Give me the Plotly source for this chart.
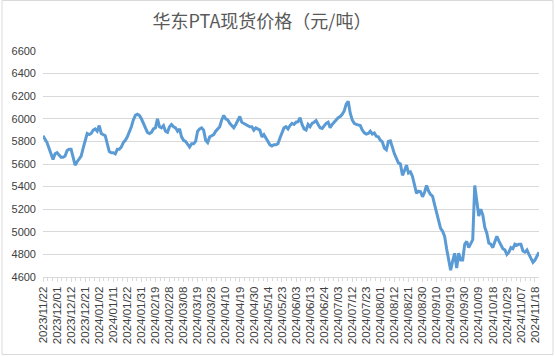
import pandas as pd
import plotly.graph_objects as go

title_text = "华东PTA现货价格（元/吨）"

holidays = ["2024-01-01", "2024-02-09", "2024-02-12", "2024-02-13", "2024-02-14",
            "2024-02-15", "2024-02-16", "2024-04-04", "2024-04-05", "2024-05-01",
            "2024-05-02", "2024-05-03", "2024-06-10"]
dates = [d.strftime("%Y/%m/%d") for d in pd.bdate_range("2023-11-22", "2024-11-20")
         if d.strftime("%Y-%m-%d") not in holidays]

prices = [
    5850, 5820, 5790, 5740, 5690, 5640, 5690, 5700, 5680, 5660,
    5660, 5670, 5720, 5730, 5730, 5650, 5590, 5620, 5650, 5670,
    5740, 5800, 5870, 5860, 5870, 5900, 5910, 5890, 5940, 5870,
    5860, 5850, 5780, 5710, 5700, 5700, 5690, 5730, 5730, 5750,
    5790, 5810, 5840, 5880, 5930, 5990, 6030, 6040, 6030, 6000,
    5960, 5910, 5880, 5870, 5880, 5910, 5920, 6000, 5930, 5920,
    5940, 5890, 5880, 5930, 5950, 5930, 5920, 5890, 5910, 5840,
    5810, 5800, 5770, 5750, 5780, 5780, 5800, 5890, 5910, 5920,
    5900, 5810, 5790, 5840, 5850, 5860, 5890, 5910, 5930, 5990,
    6030, 6000, 5990, 5960, 5940, 5920, 5950, 5990, 6020, 5970,
    5960, 5950, 5940, 5930, 5930, 5900, 5920, 5910, 5900, 5840,
    5860, 5830, 5800, 5770, 5760, 5770, 5770, 5780, 5830, 5880,
    5920, 5930, 5910, 5940, 5960, 5950, 5970, 5975, 6010, 5950,
    5910, 5900, 5950, 5930, 5960, 5970, 5985, 5950, 5920, 5915,
    5940, 5960, 5970, 5920, 5950, 5970, 5990, 6010, 6020, 6040,
    6070, 6130, 6155, 6050, 5990, 5960, 5950, 5945, 5940, 5900,
    5875, 5865, 5870, 5890, 5865, 5875, 5845, 5840, 5810, 5795,
    5740, 5725, 5800, 5805, 5740, 5690, 5650, 5610, 5600, 5500,
    5540, 5590, 5520, 5530, 5490, 5410, 5340, 5360, 5355, 5310,
    5350, 5410, 5360, 5330, 5315, 5240, 5160, 5090, 5030, 5005,
    4960, 4850, 4740, 4660, 4740, 4810, 4680, 4810, 4750, 4750,
    4890, 4915, 4860, 4890, 4930, 5410, 5280, 5140, 5200, 5150,
    5040, 4990, 4900, 4890, 4860, 4910, 4960, 4920, 4880, 4850,
    4840, 4800, 4820, 4860, 4850, 4890, 4880, 4890, 4890, 4830,
    4820, 4840, 4800, 4770, 4730, 4750, 4790, 4820,
]

tick_labels = [
    "2023/11/22", "2023/12/01", "2023/12/12", "2023/12/21", "2024/01/02", "2024/01/11",
    "2024/01/22", "2024/01/31", "2024/02/19", "2024/02/28", "2024/03/08", "2024/03/19",
    "2024/03/28", "2024/04/10", "2024/04/19", "2024/04/30", "2024/05/14", "2024/05/23",
    "2024/06/03", "2024/06/13", "2024/06/24", "2024/07/03", "2024/07/12", "2024/07/23",
    "2024/08/01", "2024/08/12", "2024/08/21", "2024/08/30", "2024/09/10", "2024/09/19",
    "2024/09/30", "2024/10/09", "2024/10/18", "2024/10/29", "2024/11/07", "2024/11/18",
]
y_ticks = [4600, 4800, 5000, 5200, 5400, 5600, 5800, 6000, 6200, 6400, 6600]

n = min(len(dates), len(prices))
idx = list(range(n))
tick_pos = [dates.index(t) for t in tick_labels]

fig = go.Figure()
fig.add_trace(go.Scatter(
    x=idx, y=prices[:n], mode="lines",
    line=dict(color="#5B9BD5", width=3),
    text=dates[:n], hovertemplate="%{text}: %{y}<extra></extra>",
    showlegend=False,
))

GRID = "#d9d9d9"
TXT = "#595959"
fig.update_layout(
    width=555, height=357,
    margin=dict(l=43, r=16, t=51, b=80, autoexpand=False),
    paper_bgcolor="white", plot_bgcolor="white",
    title=dict(text=title_text, x=0.472, xref="container", xanchor="center",
               y=0.938, yref="container", yanchor="middle",
               font=dict(family="Noto Sans CJK SC", size=18, color=TXT)),
    font=dict(family="Liberation Sans", size=11, color=TXT),
)
fig.update_xaxes(
    automargin=False,
    range=[0, n - 1], tickmode="array", tickvals=tick_pos, ticktext=tick_labels,
    tickangle=-90, showgrid=False, zeroline=False,
    showline=True, linecolor=GRID, linewidth=1,
    ticks="outside", ticklen=4, tickcolor=GRID,
    minor=dict(ticks="outside", ticklen=3, tickcolor=GRID, dtick=7 / 3, tick0=0),
    tickfont=dict(family="Liberation Sans", size=11.5, color="#404040"),
)
fig.update_yaxes(
    automargin=False,
    range=[4600, 6600], tickmode="array", tickvals=y_ticks,
    showgrid=True, gridcolor=GRID, gridwidth=1, zeroline=False, showline=False,
    ticks="", ticklabelstandoff=6,
    tickfont=dict(family="Liberation Sans", size=11, color="#404040"),
)
fig.add_shape(type="rect", xref="paper", yref="paper",
              x0=(2 - 43) / 496, x1=(553 - 43) / 496,
              y0=(277.5 - 355) / 226, y1=(277.5 - 1) / 226,
              line=dict(color=GRID, width=1), fillcolor="rgba(0,0,0,0)", layer="below")

fig.write_html("out.html", config={"displayModeBar": False},
               post_script="document.body.style.margin='0px';")
